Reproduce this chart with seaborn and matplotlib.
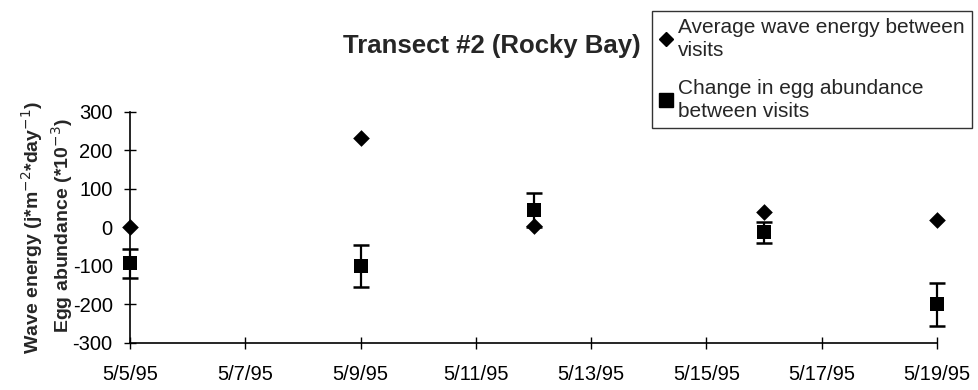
import matplotlib
matplotlib.use("Agg")
import matplotlib.pyplot as plt
from matplotlib.lines import Line2D
import pandas as pd
import seaborn as sns

# Visit dates and measurements for Transect #2
visit_dates = ["1995-05-05", "1995-05-09", "1995-05-12", "1995-05-16", "1995-05-19"]
wave_energy = [0, 233, 3, 40, 20]
egg_change = [-93, -100, 45, -13, -200]
egg_err = [38, 55, 43, 28, 55]

tick_dates = ["1995-05-05", "1995-05-07", "1995-05-09", "1995-05-11",
              "1995-05-13", "1995-05-15", "1995-05-17", "1995-05-19"]
tick_labels = ["5/5/95", "5/7/95", "5/9/95", "5/11/95",
               "5/13/95", "5/15/95", "5/17/95", "5/19/95"]
y_ticks = [300, 200, 100, 0, -100, -200, -300]

sns.set_theme(style="white")
plt.rcParams["font.family"] = ["Liberation Sans", "DejaVu Sans"]

df = pd.DataFrame({
    "date": pd.to_datetime(visit_dates),
    "wave": wave_energy,
    "egg": egg_change,
    "err": egg_err,
})

fig = plt.figure(figsize=(9.79, 3.90), dpi=100)
ax = fig.add_axes([130 / 979, 1 - 343 / 390, (937 - 130) / 979, (343 - 111.7) / 390])

eb = ax.errorbar(df["date"], df["egg"], yerr=df["err"], fmt="none",
                 ecolor="black", elinewidth=1.6, capsize=5.5, capthick=1.8, zorder=2)
sns.scatterplot(data=df, x="date", y="egg", marker="s", s=115,
                color="black", edgecolor="black", linewidth=0, ax=ax, zorder=3)
sns.scatterplot(data=df, x="date", y="wave", marker="D", s=72,
                color="black", edgecolor="black", linewidth=0, ax=ax, zorder=4)
for coll in ax.collections:
    coll.set_clip_on(False)
for artist in eb.lines[1]:
    artist.set_clip_on(False)

ax.set_xlim(pd.Timestamp(tick_dates[0]), pd.Timestamp(tick_dates[-1]))
ax.set_ylim(-300, 300)
ax.set_xticks(pd.to_datetime(tick_dates))
ax.set_xticklabels(tick_labels)
ax.set_yticks(y_ticks)
ax.set_yticklabels([str(v) for v in y_ticks])

for side in ("top", "right"):
    ax.spines[side].set_visible(False)
for side in ("left", "bottom"):
    ax.spines[side].set_color("black")
    ax.spines[side].set_linewidth(1.2)
ax.tick_params(axis="both", bottom=True, left=True, direction="inout",
               length=9, width=1.0, color="black", labelsize=14.5,
               labelcolor="black")
ax.tick_params(axis="y", pad=8)
ax.tick_params(axis="x", pad=11)
ax.set_xlabel("")
ax.set_ylabel("")

fig.text(32 / 979, 1 - 228 / 390, r"Wave energy (j*m$^{-2}$*day$^{-1}$)", rotation=90,
         ha="center", va="center", fontsize=14, fontweight="bold")
fig.text(62 / 979, 1 - 226 / 390, r"Egg abundance (*10$^{-3}$)", rotation=90,
         ha="center", va="center", fontsize=14, fontweight="bold")

fig.text(492 / 979, 1 - 46 / 390, "Transect #2 (Rocky Bay)", ha="center", va="center",
         fontsize=18.5, fontweight="bold")

handles = [
    Line2D([], [], marker="D", linestyle="none", color="black", markersize=7),
    Line2D([], [], marker="s", linestyle="none", color="black", markersize=9.5),
]
labels = ["Average wave energy between\nvisits",
          "Change in egg abundance\nbetween visits"]
leg = fig.legend(handles, labels, loc="upper left",
                 bbox_to_anchor=(652 / 979, 1 - 11 / 390), frameon=True, fancybox=False,
                 fontsize=15, handlelength=0.6, handletextpad=0.3,
                 borderpad=0.35, labelspacing=0.9, borderaxespad=0)
leg.get_frame().set_edgecolor("black")
leg.get_frame().set_linewidth(1.0)
for txt in leg.get_texts():
    txt.set_linespacing(1.25)

fig.savefig("out.png", dpi=100)
